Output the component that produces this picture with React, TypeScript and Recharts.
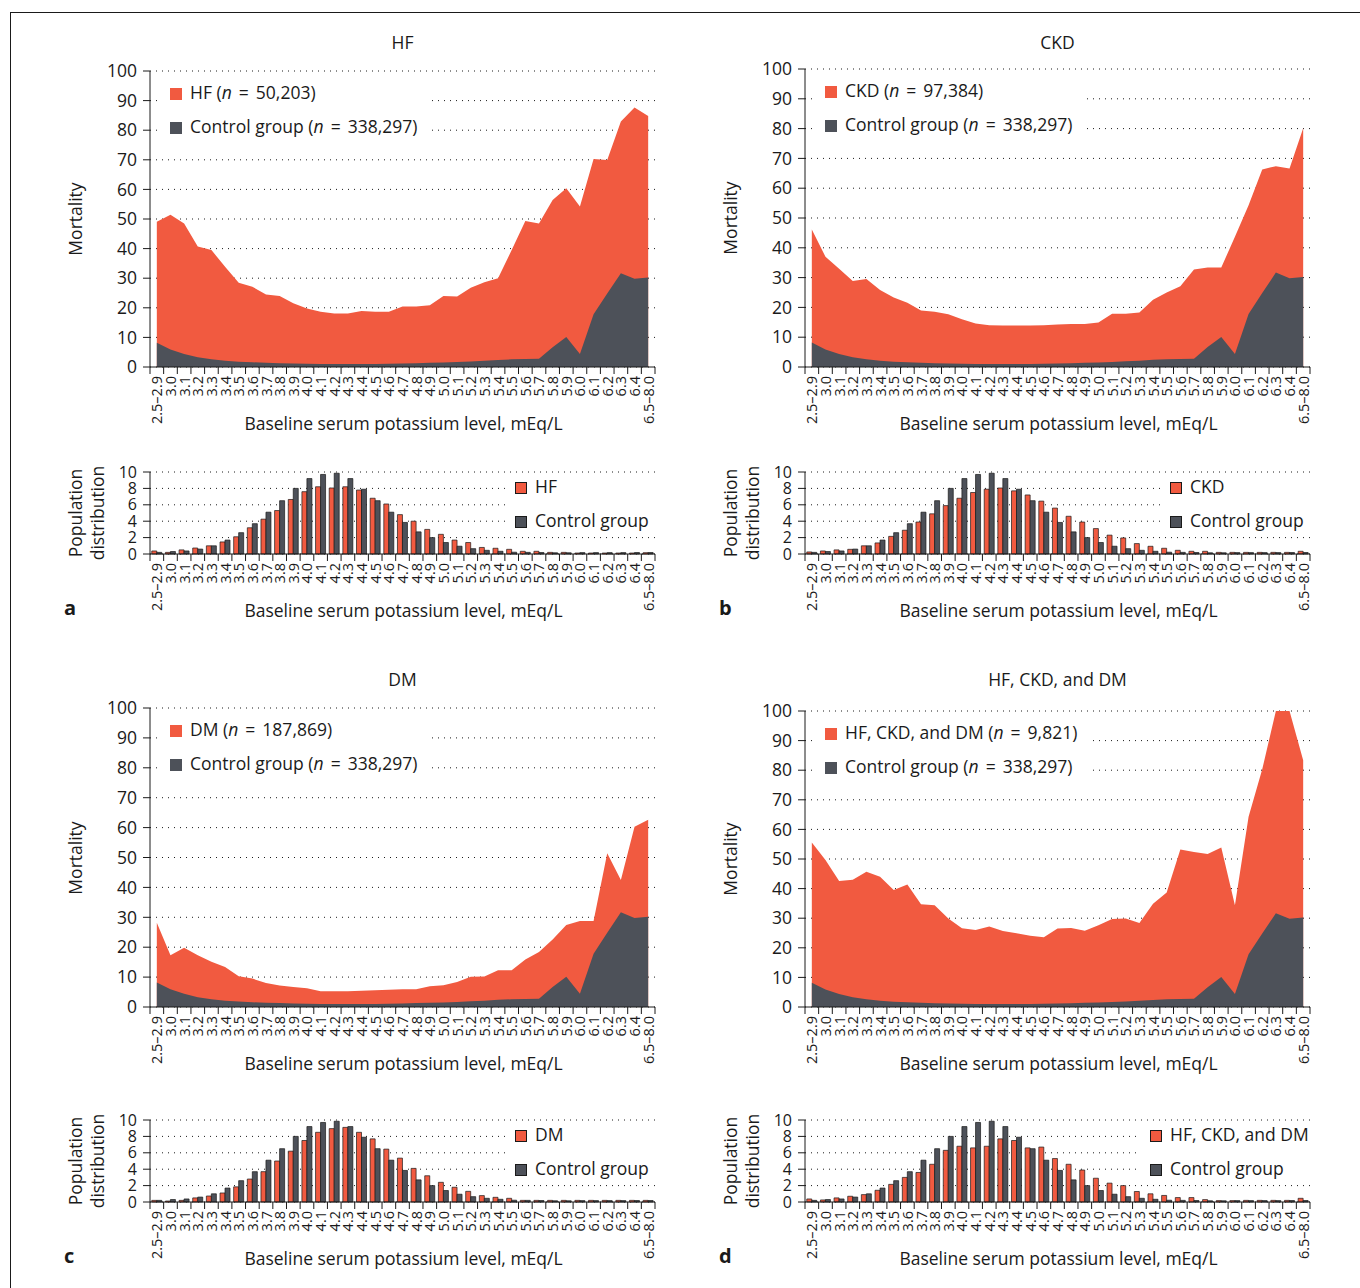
import React from "react";
import { Area, AreaChart, Bar, BarChart, CartesianGrid, XAxis, YAxis } from "recharts";

const potassiumLevels = [
  "2.5–2.9", "3.0", "3.1", "3.2", "3.3", "3.4", "3.5", "3.6", "3.7", "3.8", "3.9",
  "4.0", "4.1", "4.2", "4.3", "4.4", "4.5", "4.6", "4.7", "4.8", "4.9",
  "5.0", "5.1", "5.2", "5.3", "5.4", "5.5", "5.6", "5.7", "5.8", "5.9",
  "6.0", "6.1", "6.2", "6.3", "6.4", "6.5–8.0",
];

// mortality (%) by baseline potassium
const controlMortality = [8.2, 5.9, 4.4, 3.3, 2.6, 2.1, 1.8, 1.6, 1.4, 1.3, 1.2, 1.1, 1.0, 1.0, 1.0, 1.0, 1.0, 1.1, 1.2, 1.3, 1.4, 1.5, 1.7, 1.9, 2.1, 2.4, 2.6, 2.7, 2.8, 6.7, 10.1, 4.4, 17.8, 24.8, 31.7, 29.8, 30.2];
const hfMortality = [49.1, 51.4, 48.5, 40.7, 39.5, 33.9, 28.5, 27.1, 24.5, 24.0, 21.5, 19.8, 18.7, 18.1, 18.1, 18.9, 18.7, 18.7, 20.4, 20.4, 20.9, 24.0, 23.8, 26.8, 28.6, 30.0, 39.5, 49.3, 48.5, 56.4, 60.4, 54.2, 70.3, 69.9, 82.9, 87.7, 84.8];
const ckdMortality = [46.1, 37.0, 33.0, 28.9, 29.5, 25.8, 23.3, 21.6, 19.0, 18.5, 17.7, 16.0, 14.6, 14.0, 13.9, 13.9, 13.9, 14.0, 14.3, 14.4, 14.4, 14.9, 17.9, 17.9, 18.3, 22.6, 25.0, 27.1, 32.7, 33.4, 33.4, 43.7, 54.3, 66.3, 67.4, 66.6, 80.1];
const dmMortality = [28.2, 17.3, 19.8, 17.3, 15.1, 13.4, 10.3, 9.5, 8.0, 7.2, 6.7, 6.3, 5.3, 5.3, 5.3, 5.4, 5.6, 5.8, 5.9, 5.9, 6.9, 7.3, 8.4, 10.1, 10.2, 12.3, 12.3, 15.9, 18.4, 22.6, 27.4, 28.8, 28.8, 51.4, 42.5, 60.3, 62.6];
const allThreeMortality = [55.6, 49.7, 42.6, 43.0, 45.7, 44.0, 39.5, 41.4, 34.7, 34.4, 29.9, 26.6, 26.0, 27.2, 25.7, 24.9, 24.1, 23.6, 26.5, 26.7, 25.8, 27.6, 29.7, 29.9, 28.4, 34.9, 38.7, 53.2, 52.4, 51.7, 53.9, 34.4, 64.3, 80.3, 100, 100, 83.4];

// population distribution (%)
const controlPopulation = [0.2, 0.3, 0.37, 0.6, 1.0, 1.7, 2.6, 3.7, 5.1, 6.5, 8.0, 9.2, 9.7, 9.85, 9.2, 7.9, 6.5, 5.1, 3.85, 2.7, 2.0, 1.4, 0.95, 0.65, 0.45, 0.33, 0.22, 0.2, 0.18, 0.15, 0.15, 0.17, 0.17, 0.17, 0.17, 0.18, 0.18];
const hfPopulation = [0.37, 0.2, 0.5, 0.73, 1.0, 1.47, 2.1, 3.2, 4.25, 5.3, 6.65, 7.6, 8.2, 8.05, 8.2, 7.8, 6.8, 6.1, 4.8, 4.0, 3.0, 2.4, 1.7, 1.4, 0.8, 0.7, 0.57, 0.33, 0.33, 0.2, 0.2, 0.12, 0.12, 0.12, 0.12, 0.12, 0.16];
const ckdPopulation = [0.25, 0.37, 0.5, 0.57, 1.0, 1.35, 2.15, 2.9, 3.9, 4.9, 5.9, 6.8, 7.5, 7.9, 8.05, 7.7, 7.2, 6.45, 5.6, 4.6, 3.9, 3.1, 2.3, 1.96, 1.27, 0.94, 0.7, 0.45, 0.33, 0.33, 0.2, 0.2, 0.2, 0.2, 0.2, 0.2, 0.33];
const dmPopulation = [0.2, 0.12, 0.2, 0.5, 0.73, 1.1, 1.85, 2.8, 3.7, 5.0, 6.2, 7.5, 8.5, 8.95, 9.1, 8.5, 7.7, 6.45, 5.35, 4.1, 3.2, 2.4, 1.8, 1.3, 0.78, 0.57, 0.45, 0.2, 0.2, 0.2, 0.2, 0.2, 0.2, 0.2, 0.2, 0.2, 0.2];
const allThreePopulation = [0.37, 0.25, 0.5, 0.7, 0.9, 1.43, 2.15, 3.0, 3.6, 4.6, 6.3, 6.8, 6.6, 6.8, 7.7, 7.5, 6.6, 6.7, 5.3, 4.6, 3.9, 2.9, 2.3, 2.0, 1.28, 1.0, 0.8, 0.54, 0.54, 0.29, 0.17, 0.17, 0.2, 0.2, 0.2, 0.2, 0.45];

const mortalityTicks = [0, 10, 20, 30, 40, 50, 60, 70, 80, 90, 100];
const populationTicks = [0, 2, 4, 6, 8, 10];

const FONT = '"Open Sans", "Noto Sans", sans-serif';
const RED = "#F15A40";
const DARK = "#4D5159";
const INK = "#1a1a1a";
const PLOT_LEFT = 150;
const PLOT_W = 505;
const TOP_PAD = 20;
const STEP = PLOT_W / potassiumLevels.length;
const TEXT = 17.5;

const XTick = (props: any) => {
  const { x, y, payload, index } = props;
  const last = index === potassiumLevels.length - 1;
  return (
    <g>
      <line x1={x - STEP / 2} x2={x - STEP / 2} y1={y} y2={y + 7} stroke={INK} />
      {last && <line x1={x + STEP / 2} x2={x + STEP / 2} y1={y} y2={y + 7} stroke={INK} />}
      <text
        transform={`translate(${x},${y + 9}) rotate(-90)`}
        textAnchor="end"
        dominantBaseline="central"
        fontSize={14.5}
        fill={INK}
        fontFamily={FONT}
      >
        {payload.value}
      </text>
    </g>
  );
};

const Swatch = ({ color, border }: { color: string; border?: boolean }) => (
  <span
    style={{
      display: "inline-block",
      width: border ? 10 : 12,
      height: border ? 10 : 12,
      background: color,
      border: border ? `1px solid ${INK}` : "none",
      marginRight: 8,
      verticalAlign: "-1px",
    }}
  />
);

const Eq = () => <span style={{ margin: "0 2.5px" }}>=</span>;

const RotatedLabel = ({ cx, cy, children, lines = 1 }: any) => (
  <div
    style={{
      position: "absolute",
      left: cx - 150,
      top: cy - (lines * 22) / 2,
      width: 300,
      height: lines * 22,
      lineHeight: "22px",
      textAlign: "center",
      transform: "rotate(-90deg)",
      fontSize: TEXT,
    }}
  >
    {children}
  </div>
);

type PanelProps = {
  x: number;
  titleY: number;
  areaTop: number;
  areaBottom: number;
  barTop: number;
  barBottom: number;
  title: string;
  letter: string;
  name: string;
  n: string;
  mortality: number[];
  population: number[];
  barLegendLeft: number;
};

function Panel(p: PanelProps) {
  const rows = potassiumLevels.map((level, i) => ({
    level,
    disease: p.mortality[i],
    control: controlMortality[i],
    diseasePop: p.population[i],
    controlPop: controlPopulation[i],
  }));
  const areaH = p.areaBottom - p.areaTop;
  const barH = p.barBottom - p.barTop;
  const cx = p.x + PLOT_LEFT + PLOT_W / 2 + 1;
  const axisProps = { stroke: INK, strokeWidth: 1 };
  const margin = { top: TOP_PAD, right: 25, left: 0, bottom: 0 };

  return (
    <>
      <div style={{ position: "absolute", left: p.x + PLOT_LEFT, width: PLOT_W, top: p.titleY - 12, lineHeight: "24px", textAlign: "center", fontSize: TEXT }}>
        {p.title}
      </div>

      <div style={{ position: "absolute", left: p.x, top: p.areaTop - TOP_PAD }}>
        <AreaChart width={PLOT_LEFT + PLOT_W + 25} height={areaH + TOP_PAD + 70} data={rows} margin={margin}>
          <CartesianGrid vertical={false} stroke={INK} strokeDasharray="1 5" />
          <XAxis dataKey="level" height={70} interval={0} tick={<XTick />} tickLine={false} tickSize={0} tickMargin={0} axisLine={axisProps} padding={{ left: STEP / 2, right: STEP / 2 }} />
          <YAxis width={PLOT_LEFT} domain={[0, 100]} ticks={mortalityTicks} interval={0} tickSize={7} tickMargin={6} axisLine={axisProps} tickLine={axisProps} tick={{ fill: INK, fontSize: TEXT, fontFamily: FONT }} />
          <Area type="linear" dataKey="disease" fill={RED} fillOpacity={1} stroke="none" dot={false} activeDot={false} isAnimationActive={false} />
          <Area type="linear" dataKey="control" fill={DARK} fillOpacity={1} stroke="none" dot={false} activeDot={false} isAnimationActive={false} />
        </AreaChart>
      </div>

      <div style={{ position: "absolute", left: p.x + 160, top: p.areaTop + 4, background: "#fff", padding: "0 15px 0 10px", fontSize: TEXT, lineHeight: "34px", whiteSpace: "nowrap" }}>
        <div><Swatch color={RED} />{p.name} (<i>n</i> <Eq /> {p.n})</div>
        <div><Swatch color={DARK} />Control group (<i>n</i> <Eq /> 338,297)</div>
      </div>

      <RotatedLabel cx={p.x + 75} cy={(p.areaTop + p.areaBottom) / 2}>Mortality</RotatedLabel>
      <div style={{ position: "absolute", left: cx - 250, width: 500, top: p.areaBottom + 56 - 12, lineHeight: "24px", textAlign: "center", fontSize: TEXT }}>
        Baseline serum potassium level, mEq/L
      </div>

      <div style={{ position: "absolute", left: p.x, top: p.barTop - TOP_PAD }}>
        <BarChart width={PLOT_LEFT + PLOT_W + 25} height={barH + TOP_PAD + 70} data={rows} margin={margin} barCategoryGap="13%" barGap={0}>
          <CartesianGrid vertical={false} stroke={INK} strokeDasharray="1 5" />
          <XAxis dataKey="level" height={70} interval={0} tick={<XTick />} tickLine={false} tickSize={0} tickMargin={0} axisLine={axisProps} />
          <YAxis width={PLOT_LEFT} domain={[0, 10]} ticks={populationTicks} interval={0} tickSize={7} tickMargin={6} axisLine={axisProps} tickLine={axisProps} tick={{ fill: INK, fontSize: 16, fontFamily: FONT }} />
          <Bar dataKey="diseasePop" fill={RED} stroke={INK} strokeWidth={0.7} isAnimationActive={false} />
          <Bar dataKey="controlPop" fill={DARK} stroke={INK} strokeWidth={0.7} isAnimationActive={false} />
        </BarChart>
      </div>

      <div style={{ position: "absolute", left: p.x + p.barLegendLeft - 10, top: p.barTop + 3, width: 175, height: 56, background: "#fff" }} />
      <div style={{ position: "absolute", left: p.x + p.barLegendLeft, top: p.barTop + 14 - 11, lineHeight: "22px", fontSize: TEXT, whiteSpace: "nowrap" }}>
        <Swatch color={RED} border />{p.name}
      </div>
      <div style={{ position: "absolute", left: p.x + p.barLegendLeft, top: p.barTop + 48 - 11, lineHeight: "22px", fontSize: TEXT, whiteSpace: "nowrap" }}>
        <Swatch color={DARK} border />Control group
      </div>

      <RotatedLabel cx={p.x + 86} cy={(p.barTop + p.barBottom) / 2} lines={2}>Population<br />distribution</RotatedLabel>
      <div style={{ position: "absolute", left: cx - 250, width: 500, top: p.barBottom + 56 - 12, lineHeight: "24px", textAlign: "center", fontSize: TEXT }}>
        Baseline serum potassium level, mEq/L
      </div>
      <div style={{ position: "absolute", left: p.x + 64, top: p.barBottom + 54 - 13, lineHeight: "26px", fontSize: 20, fontWeight: 700 }}>
        {p.letter}
      </div>
    </>
  );
}

export default function App() {
  return (
    <div style={{ position: "absolute", left: 0, top: 0, width: 1360, height: 1288, background: "#fff", fontFamily: FONT, color: INK, overflow: "hidden" }}>
      <div style={{ position: "absolute", left: 10, top: 12, width: 1350, height: 1276, borderTop: `1px solid ${INK}`, borderLeft: `1px solid ${INK}` }} />
      <Panel x={0} titleY={42} areaTop={71} areaBottom={367} barTop={472} barBottom={554} title="HF" letter="a" name="HF" n="50,203" mortality={hfMortality} population={hfPopulation} barLegendLeft={515} />
      <Panel x={655} titleY={42} areaTop={69} areaBottom={367} barTop={472} barBottom={554} title="CKD" letter="b" name="CKD" n="97,384" mortality={ckdMortality} population={ckdPopulation} barLegendLeft={515} />
      <Panel x={0} titleY={679} areaTop={708} areaBottom={1007} barTop={1120} barBottom={1202} title="DM" letter="c" name="DM" n="187,869" mortality={dmMortality} population={dmPopulation} barLegendLeft={515} />
      <Panel x={655} titleY={679} areaTop={711} areaBottom={1007} barTop={1120} barBottom={1202} title="HF, CKD, and DM" letter="d" name="HF, CKD, and DM" n="9,821" mortality={allThreeMortality} population={allThreePopulation} barLegendLeft={495} />
    </div>
  );
}
